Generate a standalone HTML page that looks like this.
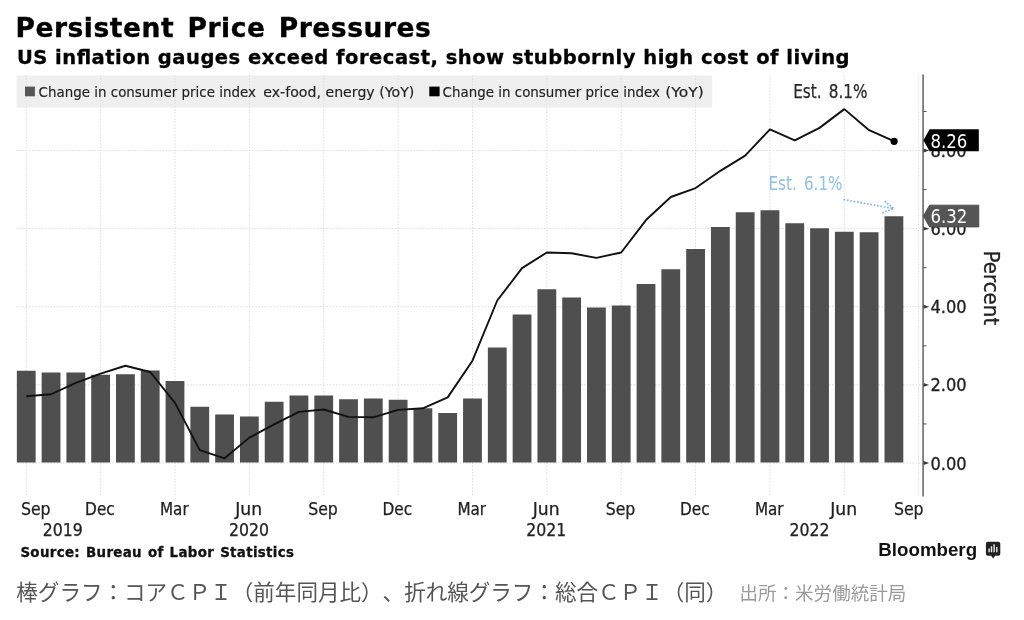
<!DOCTYPE html>
<html lang="ja"><head><meta charset="utf-8"><title>Persistent Price Pressures</title>
<style>
html,body{margin:0;padding:0;background:#fff}
body{width:1024px;height:620px;position:relative;overflow:hidden;font-family:"Liberation Sans","Noto Sans CJK JP",sans-serif}
.cap{position:absolute;left:16.3px;top:576.2px;white-space:nowrap;font-family:"Liberation Sans","Noto Sans CJK JP",sans-serif;font-size:21.55px;line-height:34px;color:#555;font-weight:400;text-spacing-trim:space-all;font-kerning:none}
.cap .src{position:absolute;left:723.2px;top:1.1px;font-size:18.55px;color:#9a9a9a}
</style></head><body>
<svg width="1024" height="620" viewBox="0 0 1024 620" style="position:absolute;left:0;top:0">
<rect x="0" y="0" width="1024" height="620" fill="#fff"/>
<rect x="16.4" y="75.5" width="695.9" height="32.1" fill="#efefef"/>
<path d="M26.25 75V495.5 M100.62 75V495.5 M174.99 75V495.5 M249.36 75V495.5 M323.73 75V495.5 M398.10 75V495.5 M472.47 75V495.5 M546.84 75V495.5 M621.21 75V495.5 M695.58 75V495.5 M769.95 75V495.5 M844.32 75V495.5 M918.69 75V495.5 M16.5 463.00H922 M16.5 384.88H922 M16.5 306.76H922 M16.5 228.64H922 M16.5 150.52H922" stroke="#dedede" stroke-width="1" stroke-dasharray="1.6 1.5" fill="none"/>
<path d="M16.85 462.40V370.82h18.8V462.40zM41.64 462.40V372.38h18.8V462.40zM66.43 462.40V372.38h18.8V462.40zM91.22 462.40V374.72h18.8V462.40zM116.01 462.40V374.33h18.8V462.40zM140.80 462.40V370.43h18.8V462.40zM165.59 462.40V380.97h18.8V462.40zM190.38 462.40V406.75h18.8V462.40zM215.17 462.40V414.57h18.8V462.40zM239.96 462.40V416.52h18.8V462.40zM264.75 462.40V401.68h18.8V462.40zM289.54 462.40V395.43h18.8V462.40zM314.33 462.40V395.43h18.8V462.40zM339.12 462.40V399.33h18.8V462.40zM363.91 462.40V398.55h18.8V462.40zM388.70 462.40V399.72h18.8V462.40zM413.49 462.40V408.32h18.8V462.40zM438.28 462.40V413.00h18.8V462.40zM463.07 462.40V398.55h18.8V462.40zM487.86 462.40V347.38h18.8V462.40zM512.65 462.40V314.57h18.8V462.40zM537.44 462.40V289.18h18.8V462.40zM562.23 462.40V297.39h18.8V462.40zM587.02 462.40V307.54h18.8V462.40zM611.81 462.40V305.59h18.8V462.40zM636.60 462.40V284.11h18.8V462.40zM661.39 462.40V269.26h18.8V462.40zM686.18 462.40V248.95h18.8V462.40zM710.97 462.40V227.08h18.8V462.40zM735.76 462.40V212.23h18.8V462.40zM760.55 462.40V210.28h18.8V462.40zM785.34 462.40V223.17h18.8V462.40zM810.13 462.40V228.25h18.8V462.40zM834.92 462.40V231.76h18.8V462.40zM859.71 462.40V232.16h18.8V462.40zM884.50 462.40V216.14h18.8V462.40z" fill="#4f4f4f"/>
<polyline points="26.25,396.21 51.04,394.25 75.83,382.93 100.62,373.55 125.41,365.74 150.20,371.99 174.99,402.85 199.78,450.11 224.57,458.31 249.36,437.61 274.15,424.33 298.94,411.83 323.73,409.49 348.52,416.91 373.31,417.30 398.10,409.88 422.89,408.32 447.68,397.38 472.47,360.66 497.26,300.51 522.05,268.09 546.84,252.47 571.63,253.25 596.42,257.94 621.21,252.47 646.00,220.05 670.79,197.00 695.58,188.02 720.37,170.83 745.16,155.60 769.95,129.43 794.74,140.36 819.53,127.87 844.32,109.12 869.11,130.21 893.90,141.20" fill="none" stroke="#111" stroke-width="1.9" stroke-linejoin="round"/>
<circle cx="894.10" cy="141.3" r="3.6" fill="#000"/>
<path d="M923.1 74.5V496.5" stroke="#7a7a7a" stroke-width="1.8" fill="none"/>
<path d="M923 423.94h3.6 M923 345.82h3.6 M923 267.70h3.6 M923 189.58h3.6 M923 111.46h3.6" stroke="#555" stroke-width="1" fill="none"/>
<path d="M923.6 461.10L929.2 463.00L923.6 464.90zM923.6 382.98L929.2 384.88L923.6 386.78zM923.6 304.86L929.2 306.76L923.6 308.66zM923.6 226.74L929.2 228.64L923.6 230.54zM923.6 148.62L929.2 150.52L923.6 152.42z" fill="#3a3a3a"/>
<text x="930.4" y="469.60" font-family='"DejaVu Sans Condensed", "DejaVu Sans", "Liberation Sans", sans-serif' font-size="17.8" fill="#222" stroke="#222" stroke-width="0.3" textLength="36.2" lengthAdjust="spacingAndGlyphs">0.00</text>
<text x="930.4" y="391.48" font-family='"DejaVu Sans Condensed", "DejaVu Sans", "Liberation Sans", sans-serif' font-size="17.8" fill="#222" stroke="#222" stroke-width="0.3" textLength="36.2" lengthAdjust="spacingAndGlyphs">2.00</text>
<text x="930.4" y="313.36" font-family='"DejaVu Sans Condensed", "DejaVu Sans", "Liberation Sans", sans-serif' font-size="17.8" fill="#222" stroke="#222" stroke-width="0.3" textLength="36.2" lengthAdjust="spacingAndGlyphs">4.00</text>
<text x="930.4" y="235.24" font-family='"DejaVu Sans Condensed", "DejaVu Sans", "Liberation Sans", sans-serif' font-size="17.8" fill="#222" stroke="#222" stroke-width="0.3" textLength="36.2" lengthAdjust="spacingAndGlyphs">6.00</text>
<text x="930.4" y="157.12" font-family='"DejaVu Sans Condensed", "DejaVu Sans", "Liberation Sans", sans-serif' font-size="17.8" fill="#222" stroke="#222" stroke-width="0.3" textLength="36.2" lengthAdjust="spacingAndGlyphs">8.00</text>
<path d="M923.4 140.26L929.6 129.36H978.8V151.16H929.6z" fill="#000"/>
<text x="930.5" y="147.56" font-family='"DejaVu Sans Condensed", "DejaVu Sans", "Liberation Sans", sans-serif' font-size="18.8" fill="#fff" textLength="36.8" lengthAdjust="spacingAndGlyphs">8.26</text>
<path d="M923.4 216.04L929.6 205.14H978.8V226.94H929.6z" fill="#555" stroke="#444" stroke-width="0.8"/>
<text x="930.5" y="223.34" font-family='"DejaVu Sans Condensed", "DejaVu Sans", "Liberation Sans", sans-serif' font-size="18.8" fill="#fff" textLength="36.8" lengthAdjust="spacingAndGlyphs">6.32</text>
<text transform="translate(983.6 250.6) rotate(90)" font-family='"DejaVu Sans Condensed", "DejaVu Sans", "Liberation Sans", sans-serif' font-size="21" fill="#222" stroke="#222" stroke-width="0.25" textLength="74.6" lengthAdjust="spacingAndGlyphs">Percent</text>
<text x="20.90" y="515.2" font-family='"DejaVu Sans Condensed", "DejaVu Sans", "Liberation Sans", sans-serif' font-size="17" fill="#222" stroke="#222" stroke-width="0.25" textLength="29.7" lengthAdjust="spacingAndGlyphs">Sep</text>
<text x="85.12" y="515.2" font-family='"DejaVu Sans Condensed", "DejaVu Sans", "Liberation Sans", sans-serif' font-size="17" fill="#222" stroke="#222" stroke-width="0.25" textLength="29.6" lengthAdjust="spacingAndGlyphs">Dec</text>
<text x="159.94" y="515.2" font-family='"DejaVu Sans Condensed", "DejaVu Sans", "Liberation Sans", sans-serif' font-size="17" fill="#222" stroke="#222" stroke-width="0.25" textLength="28.7" lengthAdjust="spacingAndGlyphs">Mar</text>
<text x="235.26" y="515.2" font-family='"DejaVu Sans Condensed", "DejaVu Sans", "Liberation Sans", sans-serif' font-size="17" fill="#222" stroke="#222" stroke-width="0.25" textLength="26.8" lengthAdjust="spacingAndGlyphs">Jun</text>
<text x="308.18" y="515.2" font-family='"DejaVu Sans Condensed", "DejaVu Sans", "Liberation Sans", sans-serif' font-size="17" fill="#222" stroke="#222" stroke-width="0.25" textLength="29.7" lengthAdjust="spacingAndGlyphs">Sep</text>
<text x="382.60" y="515.2" font-family='"DejaVu Sans Condensed", "DejaVu Sans", "Liberation Sans", sans-serif' font-size="17" fill="#222" stroke="#222" stroke-width="0.25" textLength="29.6" lengthAdjust="spacingAndGlyphs">Dec</text>
<text x="457.42" y="515.2" font-family='"DejaVu Sans Condensed", "DejaVu Sans", "Liberation Sans", sans-serif' font-size="17" fill="#222" stroke="#222" stroke-width="0.25" textLength="28.7" lengthAdjust="spacingAndGlyphs">Mar</text>
<text x="532.74" y="515.2" font-family='"DejaVu Sans Condensed", "DejaVu Sans", "Liberation Sans", sans-serif' font-size="17" fill="#222" stroke="#222" stroke-width="0.25" textLength="26.8" lengthAdjust="spacingAndGlyphs">Jun</text>
<text x="605.66" y="515.2" font-family='"DejaVu Sans Condensed", "DejaVu Sans", "Liberation Sans", sans-serif' font-size="17" fill="#222" stroke="#222" stroke-width="0.25" textLength="29.7" lengthAdjust="spacingAndGlyphs">Sep</text>
<text x="680.08" y="515.2" font-family='"DejaVu Sans Condensed", "DejaVu Sans", "Liberation Sans", sans-serif' font-size="17" fill="#222" stroke="#222" stroke-width="0.25" textLength="29.6" lengthAdjust="spacingAndGlyphs">Dec</text>
<text x="754.90" y="515.2" font-family='"DejaVu Sans Condensed", "DejaVu Sans", "Liberation Sans", sans-serif' font-size="17" fill="#222" stroke="#222" stroke-width="0.25" textLength="28.7" lengthAdjust="spacingAndGlyphs">Mar</text>
<text x="830.22" y="515.2" font-family='"DejaVu Sans Condensed", "DejaVu Sans", "Liberation Sans", sans-serif' font-size="17" fill="#222" stroke="#222" stroke-width="0.25" textLength="26.8" lengthAdjust="spacingAndGlyphs">Jun</text>
<text x="893.90" y="515.2" font-family='"DejaVu Sans Condensed", "DejaVu Sans", "Liberation Sans", sans-serif' font-size="17" fill="#222" stroke="#222" stroke-width="0.25" textLength="29.7" lengthAdjust="spacingAndGlyphs">Sep</text>
<text x="42.80" y="535.7" font-family='"DejaVu Sans Condensed", "DejaVu Sans", "Liberation Sans", sans-serif' font-size="17.4" fill="#222" stroke="#222" stroke-width="0.25" textLength="40" lengthAdjust="spacingAndGlyphs">2019</text>
<text x="228.90" y="535.7" font-family='"DejaVu Sans Condensed", "DejaVu Sans", "Liberation Sans", sans-serif' font-size="17.4" fill="#222" stroke="#222" stroke-width="0.25" textLength="40" lengthAdjust="spacingAndGlyphs">2020</text>
<text x="526.20" y="535.7" font-family='"DejaVu Sans Condensed", "DejaVu Sans", "Liberation Sans", sans-serif' font-size="17.4" fill="#222" stroke="#222" stroke-width="0.25" textLength="40" lengthAdjust="spacingAndGlyphs">2021</text>
<text x="789.40" y="535.7" font-family='"DejaVu Sans Condensed", "DejaVu Sans", "Liberation Sans", sans-serif' font-size="17.4" fill="#222" stroke="#222" stroke-width="0.25" textLength="40" lengthAdjust="spacingAndGlyphs">2022</text>
<text x="15.4" y="37.1" font-family='"DejaVu Sans", "Liberation Sans", sans-serif' font-weight="bold" font-size="26.5" fill="#000" stroke="#000" stroke-width="0.35" style="word-spacing:3.5px" textLength="415.4" lengthAdjust="spacing">Persistent Price Pressures</text>
<text transform="translate(16.9 63.8) scale(1.04 1)" font-family='"DejaVu Sans", "Liberation Sans", sans-serif' font-weight="bold" font-size="18.8" fill="#000" stroke="#000" stroke-width="0.3" textLength="800.6" lengthAdjust="spacing">US inflation gauges exceed forecast, show stubbornly high cost of living</text>
<rect x="25" y="86.6" width="9.9" height="9.7" fill="#555"/>
<text y="97.2" font-family='"DejaVu Sans", "Liberation Sans", sans-serif' font-size="14.3" fill="#222" stroke="#222" stroke-width="0.15"><tspan x="38.6" textLength="217.3" lengthAdjust="spacingAndGlyphs">Change in consumer price index</tspan> <tspan x="263.3" textLength="151" lengthAdjust="spacingAndGlyphs">ex-food, energy (YoY)</tspan></text>
<rect x="429.3" y="86.6" width="10.3" height="9.7" fill="#000"/>
<text y="97.2" font-family='"DejaVu Sans", "Liberation Sans", sans-serif' font-size="14.3" fill="#222" stroke="#222" stroke-width="0.15"><tspan x="442.6" textLength="217.3" lengthAdjust="spacingAndGlyphs">Change in consumer price index</tspan> <tspan x="665.3" textLength="38.4" lengthAdjust="spacingAndGlyphs">(YoY)</tspan></text>
<text x="793.2" y="98.1" font-family='"DejaVu Sans Condensed", "DejaVu Sans", "Liberation Sans", sans-serif' font-size="18.8" fill="#2a2a2a" stroke="#2a2a2a" stroke-width="0.25" style="word-spacing:2.6px" textLength="74.2" lengthAdjust="spacingAndGlyphs">Est. 8.1%</text>
<text x="768.5" y="190.2" font-family='"DejaVu Sans Condensed", "DejaVu Sans", "Liberation Sans", sans-serif' font-size="18.8" fill="#8ec1e8" style="word-spacing:2.6px" textLength="74" lengthAdjust="spacingAndGlyphs">Est. 6.1%</text>
<path d="M843.6 199.5L893.6 208.5" stroke="#86b6de" stroke-width="1.7" stroke-dasharray="1.7 1.7" fill="none"/>
<path d="M884.6 201.2L893.8 208.5L881.8 213" stroke="#86b6de" stroke-width="1.8" stroke-dasharray="1.7 1.5" fill="none"/>
<text x="20.4" y="556.8" font-family='"DejaVu Sans", "Liberation Sans", sans-serif' font-weight="bold" font-size="13.4" fill="#111" stroke="#111" stroke-width="0.3" style="word-spacing:1px" textLength="273.6" lengthAdjust="spacing">Source: Bureau of Labor Statistics</text>
<text x="878.3" y="555.8" font-family='"Liberation Sans", sans-serif' font-weight="bold" font-size="18.3" fill="#111" textLength="98.8" lengthAdjust="spacingAndGlyphs">Bloomberg</text>
<path d="M987.9 541.7h10.4a2 2 0 0 1 2 2v10.1a2 2 0 0 1 -2 2h-3.2l-2 2.8l-2-2.8h-3.2a2 2 0 0 1 -2-2v-10.1a2 2 0 0 1 2-2z" fill="#222"/>
<path d="M989.1 548.6v3.6M991.5 546.2v6M994.1 544.2v8M996.8 547v5.2" stroke="#e8e8e8" stroke-width="1.4" fill="none"/>
</svg>
<div class="cap">棒グラフ：コアＣＰＩ（前年同月比）、折れ線グラフ：総合ＣＰＩ（同）<span class="src">出所：米労働統計局</span></div>
</body></html>
